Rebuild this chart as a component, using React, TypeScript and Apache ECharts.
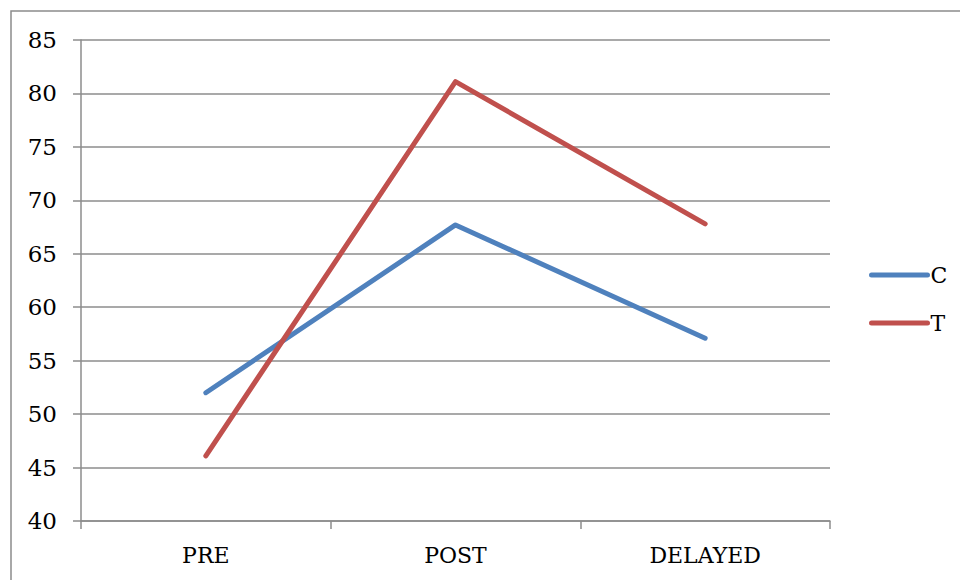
import React, { useEffect, useRef } from "react";
import * as echarts from "echarts";

// Test phases and mean scores per group
const phases = ["PRE", "POST", "DELAYED"];
const seriesC = [52.0, 67.7, 57.1];
const seriesT = [46.1, 81.1, 67.8];
const yTicks = { min: 40, max: 85, step: 5 };

const FONT = "'DejaVu Serif', 'Liberation Serif', serif";
const GRID_COLOR = "#8c8c8c";

export default function App() {
  const ref = useRef<HTMLDivElement>(null);

  useEffect(() => {
    if (!ref.current) return;
    const chart = echarts.init(ref.current, undefined, { renderer: "svg" });
    chart.setOption({
      animation: false,
      backgroundColor: "#ffffff",
      textStyle: { fontFamily: FONT },
      graphic: [
        {
          type: "rect",
          shape: { x: 11, y: 11, width: 960, height: 600 },
          style: { fill: "none", stroke: "#8c8c8c", lineWidth: 1.5 },
          silent: true,
        },
      ],
      grid: { left: 81, right: 130, top: 40, bottom: 59 },
      legend: {
        orient: "vertical",
        left: 869,
        top: 264,
        itemWidth: 56,
        itemHeight: 22,
        itemGap: 26,
        padding: 0,
        itemStyle: { opacity: 0 },
        lineStyle: { width: 5, cap: "round" },
        textStyle: {
          fontFamily: FONT,
          fontSize: 22,
          lineHeight: 22,
          color: "#000",
          padding: [0, 0, 0, -2],
        },
        data: ["C", "T"],
      },
      xAxis: {
        type: "category",
        data: phases,
        boundaryGap: true,
        axisLine: { lineStyle: { color: GRID_COLOR, width: 1.5 } },
        axisTick: { show: true, length: 8, lineStyle: { color: GRID_COLOR, width: 1.5 } },
        axisLabel: { fontFamily: FONT, fontSize: 22, color: "#000", margin: 23 },
      },
      yAxis: {
        type: "value",
        min: yTicks.min,
        max: yTicks.max,
        interval: yTicks.step,
        axisLine: { show: true, lineStyle: { color: GRID_COLOR, width: 1.5 } },
        axisTick: { show: true, length: 8, lineStyle: { color: GRID_COLOR, width: 1.5 } },
        axisLabel: { fontFamily: FONT, fontSize: 23, color: "#000", margin: 24 },
        splitLine: { lineStyle: { color: GRID_COLOR, width: 1.5 } },
      },
      series: [
        {
          name: "C",
          type: "line",
          data: seriesC,
          symbol: "none",
          color: "#4F81BD",
          lineStyle: { width: 5, color: "#4F81BD", cap: "round", join: "round" },
        },
        {
          name: "T",
          type: "line",
          data: seriesT,
          symbol: "none",
          color: "#C0504D",
          lineStyle: { width: 5, color: "#C0504D", cap: "round", join: "round" },
        },
      ],
    });
    return () => chart.dispose();
  }, []);

  return (
    <div
      ref={ref}
      style={{ position: "absolute", left: 0, top: 0, width: 960, height: 580 }}
    />
  );
}
